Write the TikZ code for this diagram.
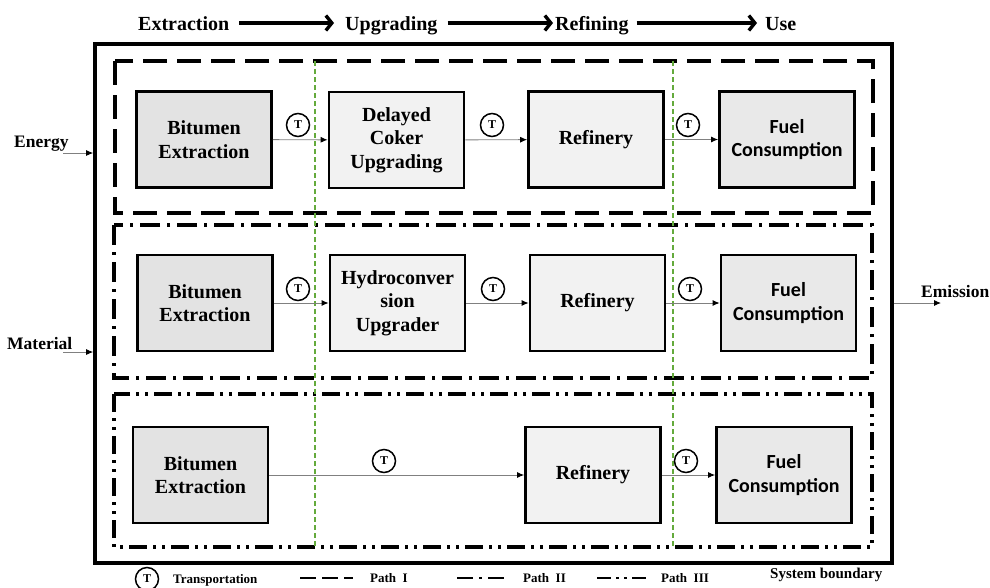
\documentclass[tikz,border=0pt]{standalone}
\usepackage{fontspec}
\setmainfont{Liberation Serif}
\newfontfamily\calibri{Carlito}
\usetikzlibrary{arrows.meta,calc,positioning}
\definecolor{stagegreen}{RGB}{100,170,60}

\begin{document}
\begin{tikzpicture}[x=1pt,y=-1pt,
    proc/.style={draw,line width=2.8pt,minimum width=135pt,minimum height=96pt,
      inner sep=2pt,align=center,font=\fontsize{20}{23.5}\selectfont\bfseries},
    bit/.style={proc,fill=gray!22},
    mid/.style={proc,fill=gray!10},
    fuel/.style={proc,fill=gray!17,font=\fontsize{20}{23.5}\selectfont\calibri\bfseries},
    tnode/.style={circle,draw,line width=1.5pt,minimum size=23pt,inner sep=0pt,
      font=\fontsize{12}{12}\selectfont\bfseries},
    flow/.style={draw=black!50,line width=0.9pt,-{Latex[length=7pt,width=6pt,color=black]}},
    hdr/.style={inner sep=0pt,text height=14pt,text depth=0pt,anchor=base west,
      font=\fontsize{20}{24}\selectfont\bfseries},
    hdarrow/.style={line width=3.4pt,-{Straight Barb[length=6pt,width=15pt]}},
    lbl/.style={inner sep=0pt,anchor=base west,font=\fontsize{17.5}{20}\selectfont\bfseries},
    leg/.style={inner sep=0pt,anchor=base west,font=\fontsize{13}{15}\selectfont\bfseries},
    pathI/.style={line width=3.2pt,dash pattern=on 24pt off 10pt},
    pathII/.style={line width=3.2pt,dash pattern=on 20pt off 7pt on 3pt off 7pt},
    pathIII/.style={line width=3.2pt,dash pattern=on 18pt off 6pt on 3pt off 6pt on 3pt off 6pt},
    stageline/.style={draw=stagegreen,line width=1.3pt,dash pattern=on 5pt off 3pt}]
    \useasboundingbox (0,0) rectangle (990,587);
    % stages along the top
    \node[hdr] (hExt) at (138,30) {Extraction};
    \node[hdr] (hUpg) at (345,30) {Upgrading};
    \node[hdr] (hRef) at (555,30) {Refining};
    \node[hdr] (hUse) at (765,30) {Use};
    \draw[hdarrow,shorten <=10pt,shorten >=11pt] (hExt.east) -- (hUpg.west);
    \draw[hdarrow,shorten <=10pt,shorten >=2pt] (hUpg.east) -- (hRef.west);
    \draw[hdarrow,shorten <=8pt,shorten >=8pt] (hRef.east) -- (hUse.west);
    % system boundary
    \node[draw,line width=3.6pt,minimum width=797pt,minimum height=519pt] (sys) at (493.5,303.5) {};
    % paths
    \draw[pathI] (115,61) rectangle (873,213);
    \draw[pathII] (114,225) rectangle (872,378);
    \draw[pathIII] (114,394) rectangle (872,547);
    \draw[stageline] (315,61) -- (315,547);
    \draw[stageline] (673,61) -- (673,547);
    % path I
    \node[bit] (be1) at (204,139.5) {Bitumen\\Extraction};
    \node[mid] (dc) at (396.5,140) {Delayed\\Coker\\Upgrading};
    \node[mid] (rf1) at (596,139.5) {Refinery};
    \node[fuel] (fc1) at (787,139.5) {Fuel\\Consumption};
    \draw[flow] (be1) -- (dc);
    \draw[flow] (dc) -- (rf1);
    \draw[flow] (rf1) -- (fc1);
    \node[tnode] (t11) at (298,125) {T};
    \node[tnode] (t12) at (492,125) {T};
    \node[tnode] (t13) at (688,125) {T};
    % path II
    \node[bit] (be2) at (205,303) {Bitumen\\Extraction};
    \node[mid] (hc) at (397.5,303) {Hydroconver\\sion\\Upgrader};
    \node[mid] (rf2) at (597.5,303) {Refinery};
    \node[fuel] (fc2) at (788.5,303) {Fuel\\Consumption};
    \draw[flow] (be2) -- (hc);
    \draw[flow] (hc) -- (rf2);
    \draw[flow] (rf2) -- (fc2);
    \node[tnode] (t21) at (298,289) {T};
    \node[tnode] (t22) at (493,289) {T};
    \node[tnode] (t23) at (690,289) {T};
    % path III
    \node[bit] (be3) at (200.5,475) {Bitumen\\Extraction};
    \node[mid] (rf3) at (593,475) {Refinery};
    \node[fuel] (fc3) at (784,475) {Fuel\\Consumption};
    \draw[flow] (be3) -- (rf3);
    \draw[flow] (rf3) -- (fc3);
    \node[tnode] (t31) at (384,461) {T};
    \node[tnode] (t32) at (686,461) {T};
    % inputs and outputs
    \node[lbl] (energy) at (14,147) {Energy};
    \node[lbl] (material) at (7,349) {Material};
    \node[lbl] (emission) at (921,297) {Emission};
    \coordinate (enTail) at (63,153);
    \coordinate (maTail) at (63,352);
    \coordinate (emTip) at (941,303);
    \draw[flow] (enTail) -- (enTail -| sys.west);
    \draw[flow] (maTail) -- (maTail -| sys.west);
    \draw[flow] (sys.east |- emTip) -- (emTip);
    % legend
    \node[tnode] (legT) at (147,579) {T};
    \node[leg] (legTtxt) at (173,583) {Transportation};
    \draw[line width=2.4pt,dash pattern=on 16pt off 6pt] (300,578) -- (353,578);
    \node[leg] (legI) at (370,582) {Path~~I};
    \draw[line width=2.4pt,dash pattern=on 16pt off 6pt on 3pt off 6pt] (457,578) -- (505,578);
    \node[leg] (legII) at (523,582) {Path~~II};
    \draw[line width=2.4pt,dash pattern=on 14pt off 5pt on 3pt off 5pt on 3pt off 5pt] (597,578) -- (648,578);
    \node[leg] (legIII) at (661,582) {Path~~III};
    \node[leg,font=\fontsize{15}{17}\selectfont\bfseries] (legSys) at (770,578) {System boundary};
\end{tikzpicture}
\end{document}
